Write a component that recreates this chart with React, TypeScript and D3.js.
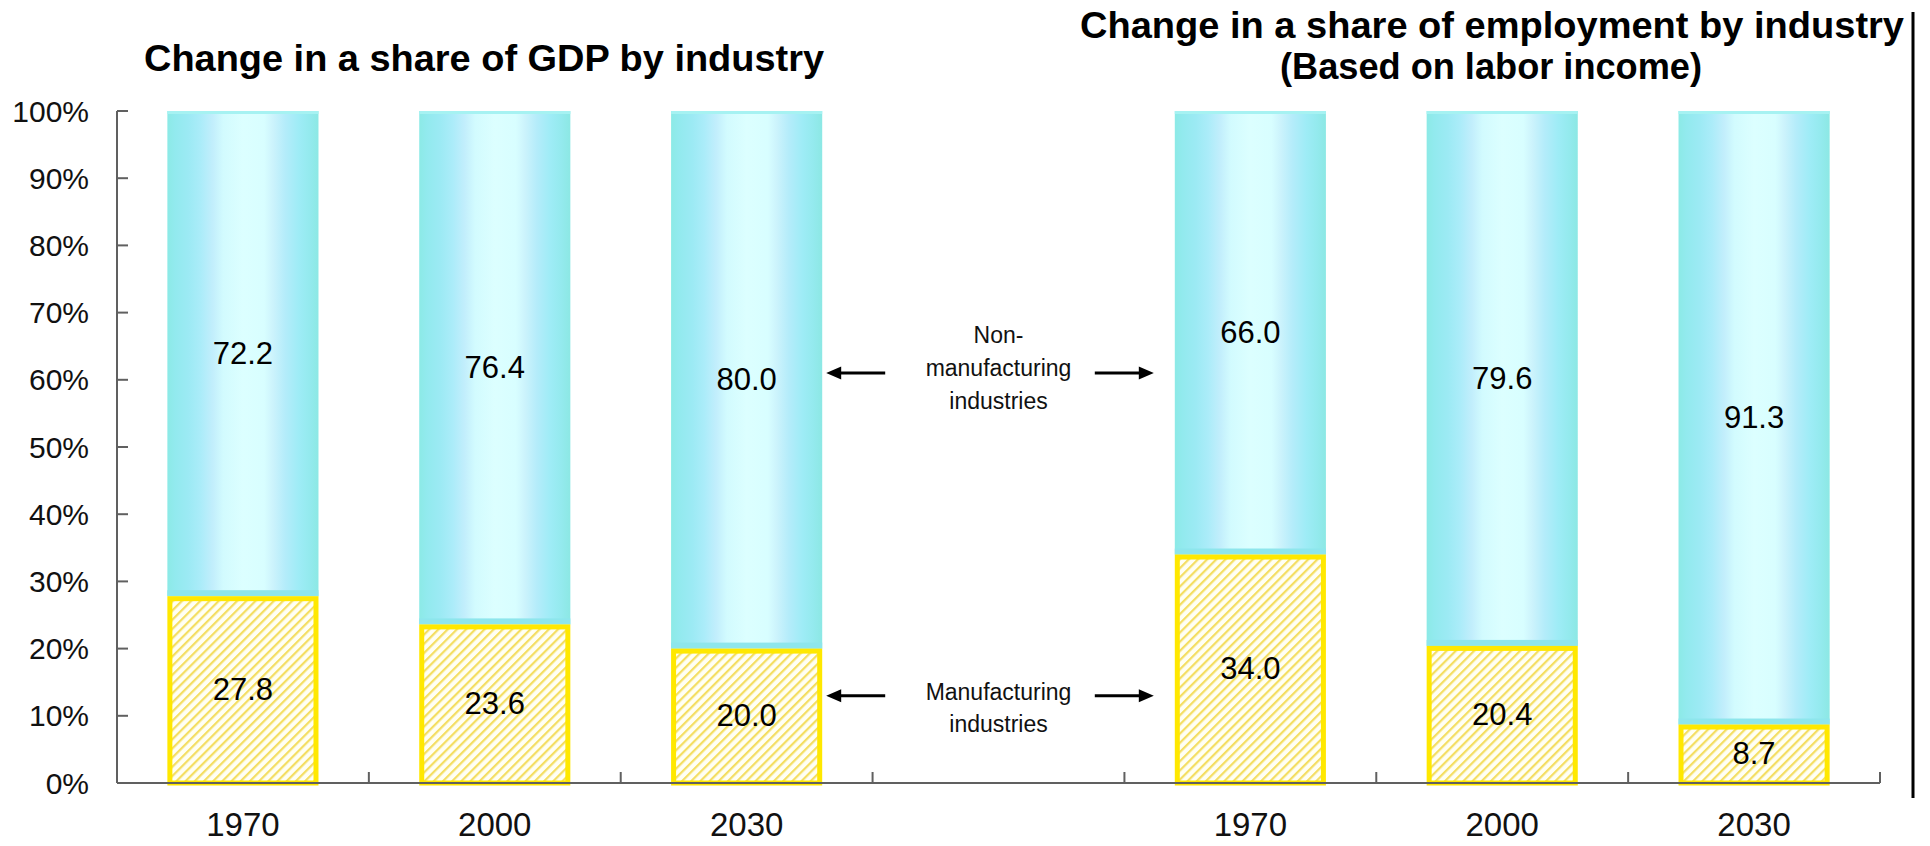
import React from "react";
import * as d3 from "d3";

const years = ["1970", "2000", "2030"];
const gdpManufacturing = [27.8, 23.6, 20.0];
const gdpNonManufacturing = [72.2, 76.4, 80.0];
const empManufacturing = [34.0, 20.4, 8.7];
const empNonManufacturing = [66.0, 79.6, 91.3];
const yTicks = [0, 10, 20, 30, 40, 50, 60, 70, 80, 90, 100];
const titleGdp = "Change in a share of GDP by industry";
const titleEmp1 = "Change in a share of employment by industry";
const titleEmp2 = "(Based on labor income)";
const nonManLabel = ["Non-", "manufacturing", "industries"];
const manLabel = ["Manufacturing", "industries"];

const W = 1930;
const H = 846;
const FONT = "'Liberation Sans', Arial, sans-serif";

type Bar = { key: string; year: string; man: number; non: number };

const bars: Bar[] = [
  ...years.map((y, i) => ({ key: "gdp-" + y, year: y, man: gdpManufacturing[i], non: gdpNonManufacturing[i] })),
  ...years.map((y, i) => ({ key: "emp-" + y, year: y, man: empManufacturing[i], non: empNonManufacturing[i] })),
];
const domain = [...bars.slice(0, 3).map((b) => b.key), "gap", ...bars.slice(3).map((b) => b.key)];

export default function App() {
  const x = d3.scaleBand<string>().domain(domain).range([117, 1880]).paddingInner(0.4).paddingOuter(0.2);
  const y = d3.scaleLinear().domain([0, 100]).range([783, 111]);
  const bw = x.bandwidth();
  const step = x.step();
  const x0 = 117;
  const x1 = 1880;
  const y0 = y(0);

  const gapCenter = (x("gap") as number) + bw / 2;
  const leftHead = (x("gdp-2030") as number) + bw + 4;
  const rightHead = (x("emp-1970") as number) - 21;
  const arrowLen = 59;

  const arrow = (xHead: number, yy: number, dir: number, k: string) => {
    const tail = xHead + dir * arrowLen;
    const hl = 15;
    return (
      <g key={k}>
        <line x1={tail} y1={yy} x2={xHead + dir * hl * 0.8} y2={yy} stroke="#000" strokeWidth={3} />
        <path d={`M${xHead},${yy} L${xHead + dir * hl},${yy - 6.5} L${xHead + dir * hl},${yy + 6.5} Z`} fill="#000" />
      </g>
    );
  };

  const boundaries = d3.range(1, domain.length + 1).map((i) => x0 + i * step);

  return (
    <svg width={W} height={H} style={{ position: "absolute", left: 0, top: 0, background: "#fff" }} fontFamily={FONT}>
      <defs>
        <linearGradient id="cyl" x1="0" x2="1" y1="0" y2="0">
          <stop offset="0" stopColor="#8CEAE6" />
          <stop offset="0.05" stopColor="#92EAEE" />
          <stop offset="0.14" stopColor="#9CEAF4" />
          <stop offset="0.22" stopColor="#ABECF9" />
          <stop offset="0.3" stopColor="#C2EEFC" />
          <stop offset="0.37" stopColor="#D2FBFE" />
          <stop offset="0.5" stopColor="#DCFFFF" />
          <stop offset="0.64" stopColor="#D8FEFF" />
          <stop offset="0.7" stopColor="#CCF3FC" />
          <stop offset="0.78" stopColor="#B4ECFA" />
          <stop offset="0.87" stopColor="#9EECF6" />
          <stop offset="0.94" stopColor="#94EAEE" />
          <stop offset="1" stopColor="#8CE8E4" />
        </linearGradient>
        <pattern id="hatch" patternUnits="userSpaceOnUse" width="6.5" height="6.5" patternTransform="rotate(45)">
          <rect width="6.5" height="6.5" fill="#FFFFF4" />
          <rect x="0" y="0" width="2.2" height="6.5" fill="#F4DE62" />
        </pattern>
      </defs>

      {/* titles */}
      <text x={484} y={71} fontSize={37} fontWeight="bold" textAnchor="middle" textLength={680} lengthAdjust="spacingAndGlyphs">
        {titleGdp}
      </text>
      <text x={1492} y={38} fontSize={37} fontWeight="bold" textAnchor="middle" textLength={824} lengthAdjust="spacingAndGlyphs">
        {titleEmp1}
      </text>
      <text x={1491} y={79} fontSize={37} fontWeight="bold" textAnchor="middle" textLength={422} lengthAdjust="spacingAndGlyphs">
        {titleEmp2}
      </text>

      {/* right frame line */}
      <line x1={1913} y1={12} x2={1913} y2={798} stroke="#000" strokeWidth={3} />

      {/* bars */}
      {bars.map((b) => {
        const bx = x(b.key) as number;
        const yMan = y(b.man);
        const yTop = y(100);
        return (
          <g key={b.key}>
            <rect x={bx} y={yTop} width={bw} height={yMan - yTop} fill="url(#cyl)" />
            <rect x={bx} y={yTop} width={bw} height={3} fill="#A6F2F2" />
            <rect x={bx} y={yMan - 6} width={bw} height={6} fill="#8EE6EC" />
            <rect x={bx + 2.5} y={yMan + 2.5} width={bw - 5} height={y0 - yMan - 2.5} fill="url(#hatch)" stroke="#FFE800" strokeWidth={5} />
            <text x={bx + bw / 2} y={y((b.man + 100) / 2)} fontSize={31} textAnchor="middle" dominantBaseline="central" fill="#000">
              {b.non.toFixed(1)}
            </text>
            <text x={bx + bw / 2} y={y(b.man / 2)} fontSize={31} textAnchor="middle" dominantBaseline="central" fill="#000">
              {b.man.toFixed(1)}
            </text>
          </g>
        );
      })}

      {/* y axis */}
      <line x1={x0} y1={y(100)} x2={x0} y2={y0} stroke="#606060" strokeWidth={2} />
      {yTicks.map((t) => (
        <g key={t}>
          <line x1={x0} x2={x0 + 11} y1={y(t)} y2={y(t)} stroke="#606060" strokeWidth={2} />
          <text x={89} y={y(t)} fontSize={30} textAnchor="end" dominantBaseline="central" fill="#111">
            {t + "%"}
          </text>
        </g>
      ))}

      {/* x axis */}
      <line x1={x0} y1={y0} x2={x1} y2={y0} stroke="#606060" strokeWidth={2} />
      {boundaries.map((bx, i) => (
        <line key={i} x1={bx} x2={bx} y1={y0} y2={y0 - 11} stroke="#606060" strokeWidth={2} />
      ))}
      {bars.map((b) => (
        <text key={"l" + b.key} x={(x(b.key) as number) + bw / 2} y={836} fontSize={33} textAnchor="middle" fill="#111">
          {b.year}
        </text>
      ))}

      {/* annotations */}
      {nonManLabel.map((s, i) => (
        <text key={"n" + i} x={gapCenter} y={335 + i * 33} fontSize={23} textAnchor="middle" dominantBaseline="central" fill="#111">
          {s}
        </text>
      ))}
      {manLabel.map((s, i) => (
        <text key={"m" + i} x={gapCenter} y={692 + i * 32} fontSize={23} textAnchor="middle" dominantBaseline="central" fill="#111">
          {s}
        </text>
      ))}
      {arrow(leftHead, y(61), 1, "a1")}
      {arrow(rightHead, y(61), -1, "a2")}
      {arrow(leftHead, y(13), 1, "a3")}
      {arrow(rightHead, y(13), -1, "a4")}
    </svg>
  );
}
